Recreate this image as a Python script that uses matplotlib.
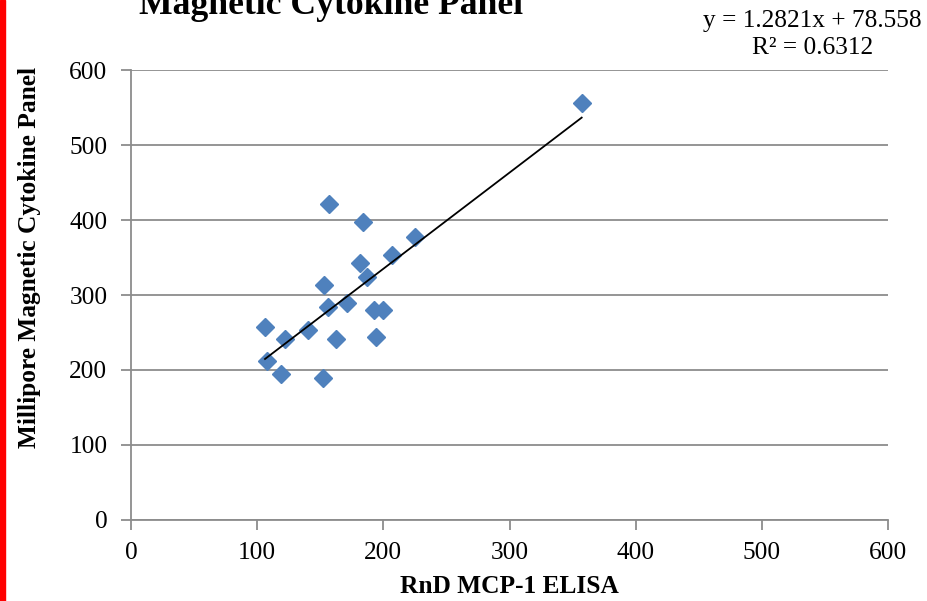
import matplotlib.pyplot as plt
import matplotlib.patches as patches
import numpy as np

# RnD MCP-1 ELISA vs Millipore Magnetic Cytokine Panel
rnd = [106.2, 108.0, 118.9, 122.0, 140.3, 156.9, 153.0, 156.1, 152.2, 162.5,
       171.2, 183.9, 181.5, 187.0, 192.6, 199.4, 193.9, 206.9, 224.7, 357.2]
millipore = [257.3, 212.0, 194.7, 241.3, 253.3, 421.3, 313.0, 284.0, 189.3, 241.3,
             289.3, 397.3, 342.7, 324.0, 280.0, 280.0, 244.0, 353.3, 377.3, 555.6]

slope = 1.2821
intercept = 78.558

plt.rcParams['font.family'] = ['Liberation Serif', 'DejaVu Serif']
fs = 18.3

fig = plt.figure(figsize=(9.28, 6.01), dpi=100)
ax = fig.add_axes([0.1412, 0.1348, 0.8157, 0.7487])

ax.plot(rnd, millipore, linestyle='none', marker='D', markersize=9.5,
        color='#4F81BD', markeredgecolor='#4F81BD', zorder=3, clip_on=False)

# linear trendline from Excel
xs = np.array([min(rnd), max(rnd)])
ax.plot(xs, slope * xs + intercept, color='black', linewidth=1.3, zorder=4)

ax.set_xlim(0, 600)
ax.set_ylim(0, 600)
ax.set_xticks(np.arange(0, 601, 100))
ax.set_yticks(np.arange(0, 601, 100))
ax.yaxis.grid(True, color='#8c8c8c', linewidth=1.3)
ax.set_axisbelow(True)

for side in ['top', 'right']:
    ax.spines[side].set_visible(False)
for side in ['left', 'bottom']:
    ax.spines[side].set_color('#8c8c8c')
    ax.spines[side].set_linewidth(1.3)

ax.tick_params(axis='both', direction='out', length=7, width=1.3, color='#8c8c8c',
               labelsize=fs)
ax.tick_params(axis='y', pad=10)
ax.tick_params(axis='x', pad=9)

fig.text(0.549, 1 - 593 / 601, 'RnD MCP-1 ELISA', fontsize=fs, fontweight='bold',
         ha='center', va='baseline')
fig.text(30 / 928, 1 - 257.5 / 601, 'Millipore Magnetic Cytokine Panel', fontsize=fs,
         fontweight='bold', rotation=90, ha='center', va='center')

fig.text(0.3567, 1 - 14 / 601, 'Magnetic Cytokine Panel', fontsize=25.7, fontweight='bold',
         ha='center', va='baseline')
fig.text(0.8755, 1 - 27 / 601, 'y = 1.2821x + 78.558', fontsize=fs,
         ha='center', va='baseline')
fig.text(0.8755, 1 - 54 / 601, 'R² = 0.6312', fontsize=fs,
         ha='center', va='baseline')

# red bar at left edge
fig.patches.append(patches.Rectangle((0, 0), 5 / 928, 1, transform=fig.transFigure,
                                     color='#ff0000', zorder=0))

plt.savefig('out.png', dpi=100)
